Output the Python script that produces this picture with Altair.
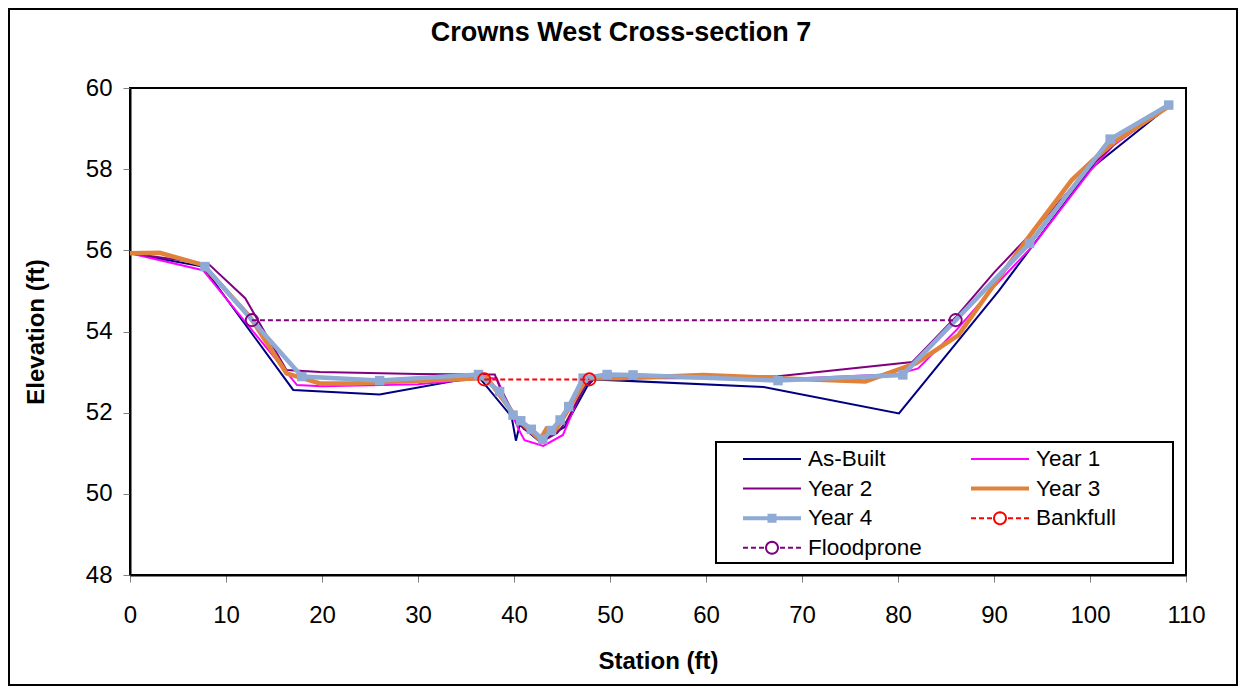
import math
import altair as alt
import pandas as pd

chart_title = "Crowns West Cross-section 7"
x_title = "Station (ft)"
y_title = "Elevation (ft)"
x_ticks = [0, 10, 20, 30, 40, 50, 60, 70, 80, 90, 100, 110]
y_ticks = [48, 50, 52, 54, 56, 58, 60]

series_names = ["As-Built", "Year 1", "Year 2", "Year 3", "Year 4", "Bankfull", "Floodprone"]
series_colors = ["#000080", "#FF00FF", "#800080", "#E0823A", "#8FAAD5", "#FF0000", "#800080"]

asbuilt_station = [0, 7.6, 17.0, 26.0, 36.3, 39.75, 40.2, 40.6, 42.7, 45.3, 47.6, 48.3, 66.0, 80.1, 90.5, 100.0, 108.2]
asbuilt_elev = [55.93, 55.6, 52.56, 52.45, 52.89, 51.9, 51.31, 51.7, 51.28, 51.65, 52.64, 52.82, 52.63, 51.98, 55.0, 58.0, 59.55]

year1_station = [0, 7.6, 17.4, 20.0, 30.0, 37.0, 38.2, 40.45, 40.8, 41.1, 43.05, 45.1, 47.2, 48.3, 60.0, 70.0, 80.0, 82.1, 86.1, 90.0, 94.0, 100.0, 102.5, 108.2]
year1_elev = [55.93, 55.51, 52.68, 52.65, 52.7, 52.85, 52.85, 51.61, 51.45, 51.32, 51.18, 51.45, 52.64, 52.85, 52.85, 52.85, 52.95, 53.09, 54.04, 55.1, 56.1, 57.95, 58.6, 59.55]

year2_station = [0, 8.2, 12.0, 16.3, 19.8, 30.0, 36.5, 38.0, 38.5, 39.75, 41.0, 43.0, 44.5, 45.5, 47.5, 48.5, 60.0, 67.5, 81.5, 86.0, 90.0, 94.0, 100.0, 104.0, 108.2]
year2_elev = [55.93, 55.66, 54.82, 53.05, 53.0, 52.95, 52.94, 52.94, 52.64, 52.07, 51.6, 51.3, 51.5, 51.8, 52.7, 52.85, 52.87, 52.9, 53.25, 54.35, 55.45, 56.45, 58.05, 58.95, 59.55]

year3_station = [0, 3.1, 7.6, 12.5, 16.3, 19.8, 22.9, 36.5, 37.2, 40.3, 42.7, 43.4, 44.3, 45.0, 47.6, 51.0, 59.7, 67.4, 76.6, 81.9, 86.3, 90.6, 94.0, 98.1, 100.3, 102.6, 108.1]
year3_elev = [55.93, 55.94, 55.64, 54.36, 52.97, 52.72, 52.72, 52.85, 52.85, 51.86, 51.33, 51.61, 51.57, 51.82, 52.85, 52.85, 52.93, 52.85, 52.77, 53.22, 53.91, 55.35, 56.45, 57.73, 58.22, 58.68, 59.53]

year4_station = [7.8, 17.9, 26.0, 36.3, 38.5, 39.9, 40.7, 41.8, 43.0, 43.9, 44.8, 45.7, 47.2, 49.7, 52.4, 67.5, 80.5, 93.7, 102.1, 108.2]
year4_elev = [55.6, 52.89, 52.79, 52.94, 52.52, 51.94, 51.8, 51.59, 51.34, 51.56, 51.82, 52.15, 52.85, 52.94, 52.93, 52.79, 52.93, 56.17, 58.74, 59.58]

bankfull_station = [36.9, 47.85]
bankfull_elev = [52.82, 52.82]

floodprone_station = [12.7, 86.0]
floodprone_elev = [54.28, 54.28]

FONT = "Arial, Liberation Sans, sans-serif"


def frame(st, el, name):
    return pd.DataFrame({"station": st, "elev": el, "series": name, "idx": list(range(len(st)))})


df_ab = frame(asbuilt_station, asbuilt_elev, "As-Built")
df_y1 = frame(year1_station, year1_elev, "Year 1")
df_y2 = frame(year2_station, year2_elev, "Year 2")
df_y3 = frame(year3_station, year3_elev, "Year 3")
df_y4 = frame(year4_station, year4_elev, "Year 4")
df_bf = frame(bankfull_station, bankfull_elev, "Bankfull")
df_fp = frame(floodprone_station, floodprone_elev, "Floodprone")
df_all = pd.concat([df_ab, df_y1, df_y2, df_y3, df_y4, df_bf, df_fp], ignore_index=True)

x_axis = alt.Axis(values=x_ticks, title=x_title, grid=False, tickSize=7, tickColor="#808080", tickWidth=1,
                  domainColor="black", domainWidth=2, labelFont=FONT, labelFontSize=24, labelColor="black",
                  labelPadding=21, labelFlush=False, labelOverlap=False, titleFont=FONT, titleFontSize=24,
                  titleFontWeight="bold", titleColor="black", titlePadding=22)
y_axis = alt.Axis(values=y_ticks, title=y_title, grid=False, tickSize=7, tickColor="#808080", tickWidth=1,
                  domainColor="black", domainWidth=2, labelFont=FONT, labelFontSize=24, labelColor="black",
                  labelPadding=11, labelFlush=False, labelOverlap=False, titleFont=FONT, titleFontSize=24,
                  titleFontWeight="bold", titleColor="black", titlePadding=37)

X = alt.X("station:Q", scale=alt.Scale(domain=[0, 110], nice=False, zero=False), axis=x_axis)
Y = alt.Y("elev:Q", scale=alt.Scale(domain=[48, 60], nice=False, zero=False), axis=y_axis)


def line_layer(df, color, width, dash=None):
    kw = dict(color=color, strokeWidth=width, strokeJoin="miter")
    if dash:
        kw["strokeDash"] = dash
    return alt.Chart(df).mark_line(**kw).encode(x=X, y=Y, order="idx:Q")


def point_layer(df, color, shape, size, filled, sw=1.5):
    return alt.Chart(df).mark_point(shape=shape, size=size, filled=filled, color=color, opacity=1,
                                    strokeWidth=sw).encode(x=X, y=Y)


# legend symbol shapes (unit box, scaled by sqrt(symbolSize)/2 = 29 px)
U = 1 / 29.0
thin = "M-1,0H1"
thick = "M-1,%.4fH1M-1,%.4fH1" % (-1 * U, 1 * U)
sq = "".join("M%.4f,%.4fH%.4f" % (-4.5 * U, k * U, 4.5 * U) for k in (-3.5, -1.75, 0, 1.75, 3.5))
circ_pts = [(6 * U * math.cos(2 * math.pi * i / 24), 6 * U * math.sin(2 * math.pi * i / 24)) for i in range(24)]
circ = "M" + "L".join("%.4f,%.4f" % p for p in circ_pts) + "Z"
dash_segs = [(-29, -24), (-21, -16), (-13, -8), (8, 13), (16, 21), (24, 29)]
dashed = "".join("M%.4f,0H%.4f" % (a * U, b * U) for a, b in dash_segs)
legend_shapes = [thin, thin, thin, thick, thick + sq, dashed + circ, dashed + circ]

legend_layer = alt.Chart(df_all).transform_filter("false").mark_point(filled=False, opacity=1, strokeWidth=2).encode(
    x=X, y=Y,
    color=alt.Color("series:N", scale=alt.Scale(domain=series_names, range=series_colors),
                    legend=alt.Legend(orient="none", legendX=612, legendY=359, columns=2, direction="horizontal",
                                      title=None, symbolSize=3364, symbolStrokeWidth=2, symbolOpacity=1,
                                      labelFont=FONT, labelFontSize=22.5, labelColor="black",
                                      labelOffset=6, columnPadding=48, rowPadding=5.6, clipHeight=24,
                                      padding=0)),
    shape=alt.Shape("series:N", scale=alt.Scale(domain=series_names, range=legend_shapes)),
)

one = pd.DataFrame({"a": [0]})
outer_border = alt.Chart(one).mark_rect(fill="white", fillOpacity=0, stroke="black", strokeWidth=2).encode(
    x=alt.value(-121), x2=alt.value(1107), y=alt.value(-79), y2=alt.value(597))
legend_box = alt.Chart(one).mark_rect(fill="white", stroke="black", strokeWidth=2).encode(
    x=alt.value(586), x2=alt.value(1043), y=alt.value(354), y2=alt.value(475))

layers = [
    outer_border,
    legend_box,
    line_layer(df_ab, series_colors[0], 2),
    line_layer(df_y1, series_colors[1], 2),
    line_layer(df_y2, series_colors[2], 2),
    line_layer(df_y3, series_colors[3], 4.5),
    line_layer(df_y4, series_colors[4], 4.5),
    point_layer(df_y4, series_colors[4], "square", 90, True),
    line_layer(df_bf, series_colors[5], 2, [5, 3]),
    point_layer(df_bf, series_colors[5], "circle", 150, False, 1.8),
    line_layer(df_fp, series_colors[6], 2, [5, 3]),
    point_layer(df_fp, series_colors[6], "circle", 150, False, 1.8),
    legend_layer,
]

chart = alt.layer(*layers).properties(
    width=1056,
    height=487,
    title=alt.TitleParams(text=chart_title, font=FONT, fontSize=27, fontWeight="bold", anchor="middle",
                          offset=0, dy=39, dx=-37, color="black"),
    autosize=alt.AutoSizeParams(type="none"),
    padding={"left": 122, "top": 80, "right": 52, "bottom": 111},
    background="white",
).configure_view(stroke="black", strokeWidth=2)

chart.save("out.html", embed_options={"renderer": "svg", "actions": False})
